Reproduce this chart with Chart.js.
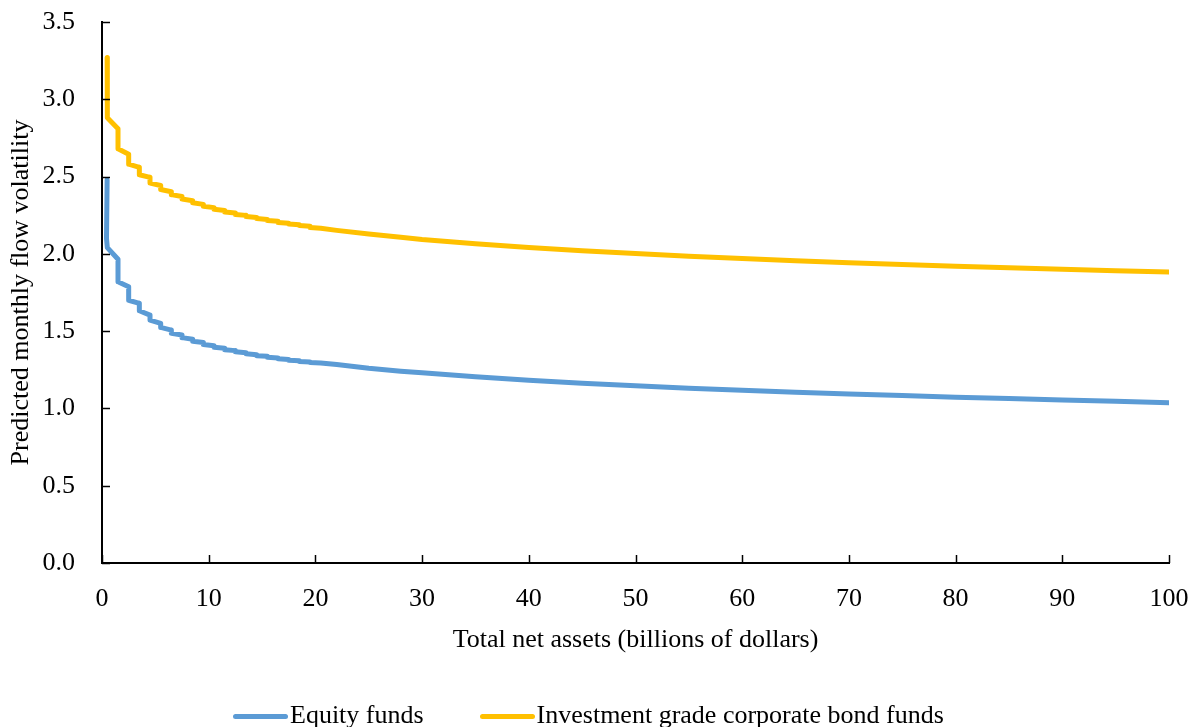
<!DOCTYPE html>
<html>
<head>
<meta charset="utf-8">
<script src="https://cdn.jsdelivr.net/npm/chart.js@4.4.1/dist/chart.umd.min.js"></script>
<style>
html,body{margin:0;padding:0;background:#fff;}
#wrap{position:relative;width:1195px;height:727px;overflow:hidden;}
#c{position:absolute;left:0;top:0;}
#legend{position:absolute;left:233px;top:700px;height:30px;display:flex;align-items:center;gap:56px;
  font-family:'Liberation Serif','Times New Roman',serif;font-size:26px;line-height:30px;color:#000;white-space:nowrap;}
#legend .item{display:flex;align-items:center;}
#legend .swatch{display:inline-block;width:55px;height:5px;border-radius:2.5px;margin-right:2px;position:relative;top:1px;}
</style>
</head>
<body>
<div id="wrap">
  <canvas id="c" width="1195" height="727"></canvas>
  <div id="legend"></div>
</div>
<script>
// ---- Data ----
const seriesNames = ["Equity funds", "Investment grade corporate bond funds"];
const xTitle = "Total net assets (billions of dollars)";
const yTitle = "Predicted monthly flow volatility";

const equityX = [0.48, 0.42, 0.5, 1.5, 1.5, 2.5, 2.5, 3.5, 3.5, 4.5, 4.5, 5.5, 5.5, 6.5, 6.5, 7.5, 7.5, 8.5, 8.5, 9.5, 9.5, 10.5, 10.5, 11.5, 11.5, 12.5, 12.5, 13.5, 13.5, 14.5, 14.5, 15.5, 15.5, 16.5, 16.5, 17.5, 17.5, 18.5, 18.5, 19.5, 19.5, 20.5, 22, 25, 28, 30, 35, 40, 45, 50, 55, 60, 65, 70, 75, 80, 85, 90, 95, 100];
const equityY = [2.48, 2.10, 2.04, 1.965, 1.82, 1.787, 1.70, 1.68, 1.632, 1.604, 1.572, 1.55, 1.524, 1.507, 1.486, 1.475, 1.458, 1.448, 1.435, 1.426, 1.414, 1.406, 1.396, 1.389, 1.380, 1.374, 1.366, 1.360, 1.353, 1.348, 1.341, 1.337, 1.331, 1.327, 1.321, 1.317, 1.312, 1.309, 1.304, 1.301, 1.297, 1.294, 1.284, 1.260, 1.241, 1.231, 1.205, 1.183, 1.163, 1.146, 1.131, 1.117, 1.105, 1.094, 1.083, 1.073, 1.064, 1.055, 1.046, 1.037];

const bondX = [0.48, 0.5, 1.5, 1.5, 2.5, 2.5, 3.5, 3.5, 4.5, 4.5, 5.5, 5.5, 6.5, 6.5, 7.5, 7.5, 8.5, 8.5, 9.5, 9.5, 10.5, 10.5, 11.5, 11.5, 12.5, 12.5, 13.5, 13.5, 14.5, 14.5, 15.5, 15.5, 16.5, 16.5, 17.5, 17.5, 18.5, 18.5, 19.5, 19.5, 20.5, 22, 25, 28, 30, 35, 40, 45, 50, 55, 60, 65, 70, 75, 80, 85, 90, 95, 100];
const bondY = [3.27, 2.88, 2.81, 2.68, 2.645, 2.58, 2.56, 2.512, 2.495, 2.458, 2.442, 2.416, 2.402, 2.383, 2.371, 2.355, 2.344, 2.330, 2.320, 2.308, 2.299, 2.289, 2.281, 2.271, 2.264, 2.255, 2.249, 2.241, 2.235, 2.228, 2.223, 2.216, 2.211, 2.203, 2.198, 2.193, 2.188, 2.184, 2.178, 2.171, 2.165, 2.152, 2.128, 2.107, 2.093, 2.066, 2.041, 2.020, 2.002, 1.985, 1.970, 1.956, 1.943, 1.931, 1.920, 1.910, 1.900, 1.891, 1.882];

const xMin = 0, xMax = 100, xStep = 10;
const yMin = 0, yMax = 3.5, yStep = 0.5;

const colors = ["#5B9BD5", "#FFC000"];
const FONT = "'Liberation Serif', 'Times New Roman', serif";
const FS = 26;

function toPoints(xs, ys){ return xs.map((x,i)=>({x:x, y:ys[i]})); }

const inwardTicks = {
  id: 'inwardTicks',
  afterDatasetsDraw(chart){
    const {ctx, chartArea, scales} = chart;
    const x = scales.x, y = scales.y;
    ctx.save();
    ctx.strokeStyle = '#000';
    ctx.lineWidth = 1.5;
    x.ticks.forEach(t => {
      const px = Math.round(x.getPixelForValue(t.value)) + 0.5;
      ctx.beginPath(); ctx.moveTo(px, chartArea.bottom); ctx.lineTo(px, chartArea.bottom - 8); ctx.stroke();
    });
    y.ticks.forEach(t => {
      const py = Math.round(y.getPixelForValue(t.value)) + 0.5;
      ctx.beginPath(); ctx.moveTo(chartArea.left, py); ctx.lineTo(chartArea.left + 8, py); ctx.stroke();
    });
    ctx.restore();
  }
};

const chart = new Chart(document.getElementById('c'), {
  type: 'line',
  data: {
    datasets: [
      { label: seriesNames[0], data: toPoints(equityX, equityY), borderColor: colors[0], backgroundColor: colors[0], borderWidth: 5, pointRadius: 0, tension: 0, borderCapStyle: 'round', borderJoinStyle: 'round' },
      { label: seriesNames[1], data: toPoints(bondX, bondY), borderColor: colors[1], backgroundColor: colors[1], borderWidth: 5, pointRadius: 0, tension: 0, borderCapStyle: 'round', borderJoinStyle: 'round' }
    ]
  },
  options: {
    responsive: false,
    devicePixelRatio: 1,
    animation: false,
    layout: { padding: { left: 0, right: 26, top: 22, bottom: 73 } },
    plugins: {
      tooltip: { enabled: false },
      legend: { display: false }
    },
    scales: {
      x: {
        type: 'linear', min: xMin, max: xMax,
        ticks: { stepSize: xStep, font: { family: FONT, size: FS }, color: '#000', padding: 21, maxRotation: 0 },
        grid: { display: false, drawTicks: false },
        border: { display: true, color: '#000', width: 2 },
        title: { display: true, text: xTitle, font: { family: FONT, size: FS }, color: '#000', padding: { top: 0, bottom: -2 } },
        afterFit(scale){ scale.height = 91; scale.paddingLeft = 0; scale.paddingRight = 0; }
      },
      y: {
        type: 'linear', min: yMin, max: yMax,
        ticks: { stepSize: yStep, font: { family: FONT, size: FS }, color: '#000', padding: 27, callback: v => Number(v).toFixed(1) },
        grid: { display: false, drawTicks: false },
        border: { display: true, color: '#000', width: 2 },
        title: { display: true, text: yTitle, font: { family: FONT, size: FS }, color: '#000', padding: { top: 6, bottom: 0 } },
        afterFit(scale){ scale.width = 102; scale.paddingTop = 0; scale.paddingBottom = 0; }
      }
    }
  },
  plugins: [inwardTicks]
});

// HTML legend built from the chart's datasets
const legendEl = document.getElementById('legend');
chart.data.datasets.forEach(ds => {
  const item = document.createElement('span');
  item.className = 'item';
  const sw = document.createElement('span');
  sw.className = 'swatch';
  sw.style.background = ds.borderColor;
  const txt = document.createElement('span');
  txt.textContent = ds.label;
  item.appendChild(sw); item.appendChild(txt);
  legendEl.appendChild(item);
});
</script>
</body>
</html>
